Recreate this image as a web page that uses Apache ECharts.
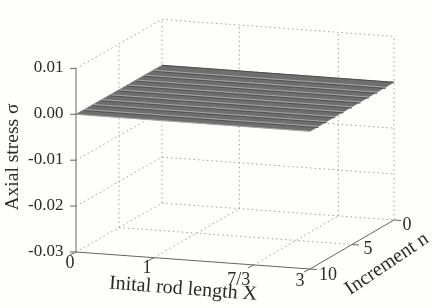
<!DOCTYPE html>
<html><head><meta charset="utf-8">
<style>html,body{margin:0;padding:0;background:#fefefd}#c{width:432px;height:308px}</style>
<script src="https://cdn.jsdelivr.net/npm/echarts@6/dist/echarts.min.js"></script>
</head><body><div id="c"></div>
<script>
var xTicks = [0, 1, 2.28, 3];
var xTickLabels = ['0', '1', '7/3', '3'];
var nTicks = [0, 5, 10];
var nTickLabels = ['0', '5', '10'];
var zTicks = [-0.03, -0.02, -0.01, 0, 0.01];
var zTickLabels = ['-0.03', '-0.02', '-0.01', '0.00', '0.01'];
var increments = [0, 1, 2, 3, 4, 5, 6, 7, 8, 9, 10];
var lengthSamples = [0, 0.5, 1, 1.5, 2, 2.5, 3];
var stressAtIncrement = [0, 0, 0, 0, 0, 0, 0, 0, 0, 0, 0];

var FONT = '"Liberation Serif","Times New Roman",serif';
var Xmax = 3, Nmax = 10, Zmin = -0.03;
function project(X, n, z) {
  var u = X / Xmax, v = n / Nmax;
  var bx = (1 - v) * ((1 - u) * 162 + u * 394) + v * ((1 - u) * 76 + u * 310);
  var by = (1 - v) * ((1 - u) * 203 + u * 220) + v * ((1 - u) * 252 + u * 269);
  return [bx, by - (z - Zmin) * 4590];
}
var zTop = zTicks[zTicks.length - 1], zBot = zTicks[0];
var dotted = [], solid = [];
zTicks.forEach(function (z) {
  dotted.push([0, 10, z, 0, 0, z]);
  dotted.push([0, 0, z, 3, 0, z]);
});
dotted.push([0, 5, zBot, 0, 5, zTop]);
dotted.push([0, 0, zBot, 0, 0, zTop]);
dotted.push([3, 0, zBot, 3, 0, zTop]);
xTicks.slice(1, 3).forEach(function (X) {
  dotted.push([X, 0, zBot, X, 0, zTop]);
  dotted.push([X, 10, zBot, X, 0, zBot]);
});
dotted.push([0, 5, zBot, 3, 5, zBot]);
solid.push([0, 10, zBot, 0, 10, zTop]);
solid.push([0, 10, zBot, 3, 10, zBot]);
solid.push([3, 10, zBot, 3, 0, zBot]);

var cells = [];
for (var i = 0; i + 1 < increments.length; i++) {
  for (var j = 0; j + 1 < lengthSamples.length; j++) {
    cells.push([lengthSamples[j], lengthSamples[j + 1], increments[i], increments[i + 1], stressAtIncrement[i], stressAtIncrement[i + 1]]);
  }
}
var stripes = increments.slice(1).map(function (n, i) { return [0, n, stressAtIncrement[i + 1], 3, n, stressAtIncrement[i + 1]]; });
var darkStripes = stripes.slice(0, stripes.length - 1);
var backEdge = [[0, 0, stressAtIncrement[0], 3, 0, stressAtIncrement[0]]];

function segSeries(data, color, width, dash, z, dy) {
  return {
    type: 'custom', coordinateSystem: 'cartesian2d', clip: false, silent: true, z: z,
    encode: { x: 0, y: 1 }, data: data,
    renderItem: function (p, api) {
      var a = project(api.value(0), api.value(1), api.value(2));
      var b = project(api.value(3), api.value(4), api.value(5));
      var A = api.coord(a), B = api.coord(b);
      var o = dy || 0;
      return { type: 'line', shape: { x1: A[0], y1: A[1] + o, x2: B[0], y2: B[1] + o },
        style: { stroke: color, lineWidth: width, lineDash: dash || null, fill: null } };
    }
  };
}
var surface = {
  type: 'custom', coordinateSystem: 'cartesian2d', clip: false, silent: true, z: 3,
  encode: { x: 0, y: 2 }, data: cells,
  renderItem: function (p, api) {
    var x0 = api.value(0), x1 = api.value(1), n0 = api.value(2), n1 = api.value(3), s0 = api.value(4), s1 = api.value(5);
    var pts = [project(x0, n0, s0), project(x1, n0, s0), project(x1, n1, s1), project(x0, n1, s1)].map(function (q) { return api.coord(q); });
    return { type: 'polygon', shape: { points: pts }, style: { fill: '#6e6e6e', stroke: '#6e6e6e', lineWidth: 0.5 } };
  }
};
function tickSeries() {
  var d = [];
  zTicks.forEach(function (z) { var q = project(0, 10, z); d.push([q[0], q[1], q[0] - 6, q[1]]); });
  xTicks.forEach(function (X) { var q = project(X, 10, zBot); d.push([q[0], q[1], q[0] - 6, q[1] + 3]); });
  nTicks.forEach(function (n) { var q = project(3, n, zBot); d.push([q[0], q[1], q[0] + 7, q[1] + 0.5]); });
  return {
    type: 'custom', coordinateSystem: 'cartesian2d', clip: false, silent: true, z: 5, encode: { x: 0, y: 1 }, data: d,
    renderItem: function (p, api) {
      var A = api.coord([api.value(0), api.value(1)]), B = api.coord([api.value(2), api.value(3)]);
      return { type: 'line', shape: { x1: A[0], y1: A[1], x2: B[0], y2: B[1] }, style: { stroke: '#666', lineWidth: 1 } };
    }
  };
}
function labels() {
  var out = [];
  function t(text, pt, dx, dy, align, size) {
    out.push({ type: 'text', x: pt[0] + dx, y: pt[1] + dy, silent: true,
      style: { text: text, font: size + 'px ' + FONT, fill: '#2a2a2a', textAlign: align || 'center', textVerticalAlign: 'middle' } });
  }
  zTicks.forEach(function (z, i) { t(zTickLabels[i], project(0, 10, z), -12.5, -0.5, 'right', 17); });
  var xo = [[-6, 11], [-7, 11], [-15, 15], [-10, 12]];
  xTicks.forEach(function (X, i) { t(xTickLabels[i], project(X, 10, zBot), xo[i][0], xo[i][1], 'center', 18); });
  var no = [[13, 5], [16, 5], [18, 6]];
  nTicks.forEach(function (n, i) { t(nTickLabels[i], project(3, n, zBot), no[i][0], no[i][1], 'center', 18); });
  function title(text, x, y, rot, size) {
    out.push({ type: 'text', x: x, y: y, rotation: rot, silent: true,
      style: { text: text, font: size + 'px ' + FONT, fill: '#2a2a2a', textAlign: 'center', textVerticalAlign: 'middle' } });
  }
  title('Axial stress \u03c3', 13, 157, Math.PI / 2, 19.5);
  title('Inital rod length X', 183, 289, -4.4 * Math.PI / 180, 20);
  title('Increment n', 387, 264, 34 * Math.PI / 180, 20);
  return out;
}
var chart = echarts.init(document.getElementById('c'), null, { renderer: 'canvas' });
chart.setOption({
  animation: false,
  backgroundColor: '#fefefd',
  grid: { left: 0, right: 0, top: 0, bottom: 0 },
  xAxis: { type: 'value', min: 0, max: 432, show: false },
  yAxis: { type: 'value', min: 0, max: 308, inverse: true, show: false },
  graphic: labels(),
  series: [
    segSeries(dotted, '#a2a2a2', 1, [1.5, 3], 1),
    segSeries(solid, '#666666', 1, null, 2),
    surface,
    segSeries(darkStripes, '#525252', 1, null, 4, 1.2),
    segSeries(stripes, '#a8a8a8', 0.9, null, 4.5),
    segSeries(backEdge, '#4a4a4a', 1, null, 4),
    tickSeries()
  ]
});
</script></body></html>
